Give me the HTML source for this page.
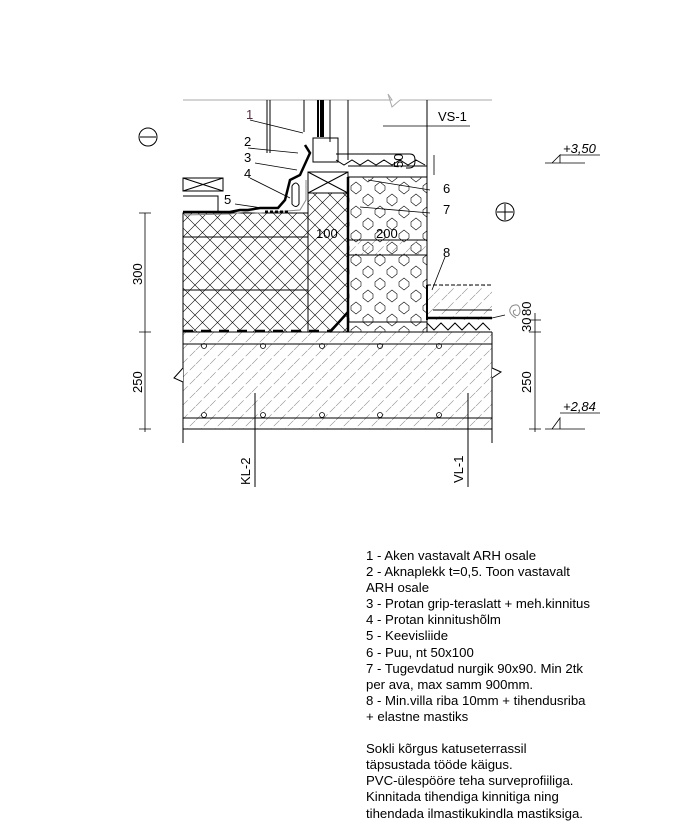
<!DOCTYPE html>
<html><head><meta charset="utf-8"><style>
body{margin:0;background:#fff;width:690px;height:840px;overflow:hidden;font-family:"Liberation Sans",sans-serif}
.leg{position:absolute;left:366px;top:548px;font-size:13.2px;line-height:16.1px;color:#000}
</style></head><body>
<svg width="690" height="840" style="position:absolute;left:0;top:0" font-family="Liberation Sans, sans-serif">
<defs>
<pattern id="x" width="15" height="15" patternUnits="userSpaceOnUse"><path d="M0 0L15 15M15 0L0 15" stroke="#000" stroke-width="0.6"/></pattern>
<pattern id="d" width="14" height="14" patternUnits="userSpaceOnUse"><path d="M0 14L14 0" stroke="#888" stroke-width="0.6" stroke-dasharray="8,3"/></pattern>
<pattern id="h" width="24" height="24" patternUnits="userSpaceOnUse"><polygon points="3,6 8,2 13,6 13,10 8,14 3,10" fill="none" stroke="#000" stroke-width="0.6"/><polygon points="15,18 20,14 25,18 25,22 20,26 15,22" fill="none" stroke="#000" stroke-width="0.6"/><polygon points="-9,18 -4,14 1,18 1,22 -4,26 -9,22" fill="none" stroke="#000" stroke-width="0.6"/><polygon points="15,-6 20,-10 25,-6 25,-2 20,2 15,-2" fill="none" stroke="#000" stroke-width="0.6"/></pattern>
</defs>
<g stroke="#000" fill="none" stroke-width="1">
<rect x="183" y="332" width="309" height="97" fill="url(#d)" stroke="none"/>
<path d="M183 332H492M183 344H492M183 418H492M183 429H492M183 332V443M492 332V443"/>
<path d="M183 368L174 378L183 382M492 368L501 372L492 378" fill="#fff"/>
<g stroke-width="0.8"><circle cx="204" cy="346" r="2.5"/><circle cx="263" cy="346" r="2.5"/><circle cx="322" cy="346" r="2.5"/><circle cx="380" cy="346" r="2.5"/><circle cx="439" cy="346" r="2.5"/>
<circle cx="204" cy="415" r="2.5"/><circle cx="263" cy="415" r="2.5"/><circle cx="322" cy="415" r="2.5"/><circle cx="380" cy="415" r="2.5"/><circle cx="439" cy="415" r="2.5"/></g>
<rect x="183" y="213" width="125" height="119" fill="url(#x)"/>
<path d="M183 237H308M183 290H308"/>
<rect x="308" y="193" width="40" height="139" fill="url(#x)"/>
<rect x="308" y="172" width="40" height="21" fill="#fff"/>
<path d="M308 172L348 193M348 172L308 193"/>
<rect x="348" y="177" width="79" height="155" fill="url(#h)"/>
<rect x="348" y="240" width="79" height="15" fill="url(#d)"/>
<path d="M348 240H427M348 255H427M348 322H427"/>
<path d="M348 177V332" stroke-width="2.5"/>
<path d="M330 332L348 312" stroke-width="2.5"/>
<path d="M183 331H330" stroke-width="2.5" stroke-dasharray="10,8"/>
<rect x="427" y="285" width="65" height="35" fill="url(#d)" stroke="none"/>
<path d="M427 285H492" stroke-dasharray="4,2"/>
<path d="M427 318H492" stroke-width="2.5"/>
<path d="M427 285V320" stroke-width="2"/>
<path d="M433 310H492"/>
<path d="M427 323L434 330L441 323L448 330L455 323L462 330L469 323L476 330L483 323L490 330"/>
<path d="M427 170V332"/>
<path d="M183 100H327M400 100H492M327 100L392 100L388 94L392 107L400 100" stroke="#aaa"/>
<path d="M267 100V153M270 100V153M304 100V132M330 100V142M348 100V160M427 100V177"/>
<path d="M318 100V137M321 100V137M323 100V137" stroke-width="2"/>
<path d="M313 138h25v24h-25z"/>
<path d="M336 154h74q5 0 5 6v1q0 7-6 7h-3"/>
<path d="M336 160L344 165L352 160L360 165L368 160L376 165L384 160L392 165L400 160L408 165L416 160L425 165"/>
<path d="M348 166H427M348 177H427"/>
<path d="M305 145L310 153L300 175L290 180L285 200L278 208L260 208L248 210L240 210L230 212L183 212" stroke-width="2.5"/>
<path d="M183 215L230 214L245 212L260 213L300 210L306 200V180" stroke="#888"/>
<path d="M265 212H290" stroke-width="3" stroke-dasharray="3,2"/>
<rect x="183" y="178" width="40" height="13"/><path d="M183 178L223 191M223 178L183 191"/>
<path d="M183 196H218V213"/>
<path d="M292 186q4-6 7 0v18q-3 5-7 0z"/>
<g stroke-width="0.8">
<path d="M250 120L303 133M248 148L298 153M255 163L297 170M250 178L290 198M235 204L262 208M430 190L368 180M430 213L360 207M445 257L432 290M505 315L492 318"/>
<path d="M383 126H470M434 155V175" />
</g>
<path d="M145 213V432M139 213H151M139 332H151M139 429H151" stroke-width="0.8"/>
<path d="M535 313V432M529 320H541M529 332H541M529 429H541" stroke-width="0.8"/>
<path d="M545 163H585M552 163L560 155V163M560 155H600" stroke-width="0.8"/>
<path d="M545 429H585M552 429L560 418V429M560 413H600" stroke-width="0.8"/>
<path d="M255 393V487M468 393V487"/>
<circle cx="148" cy="137" r="9"/><path d="M140 137H156"/>
<circle cx="505" cy="212" r="9"/><path d="M497 212H513M505 204V220"/>
<path d="M516 318q-10 -6 -4 -12q8 -4 8 6q-2 6-6 2q-2 -4 2 -4" stroke="#888"/>
</g>
<g font-size="13" fill="#000">
<text x="246" y="119" fill="#503040">1</text><text x="244" y="146">2</text><text x="244" y="162">3</text><text x="244" y="178">4</text><text x="224" y="204">5</text>
<text x="438" y="121">VS-1</text>
<text x="443" y="193">6</text><text x="443" y="214">7</text><text x="443" y="257">8</text>
<text x="316" y="238">100</text><text x="376" y="238">200</text>
<text transform="translate(403,168) rotate(-90)">50</text>
<text transform="translate(142,285) rotate(-90)">300</text>
<text transform="translate(142,393) rotate(-90)">250</text>
<text transform="translate(531,393) rotate(-90)">250</text>
<text transform="translate(531,332) rotate(-90)">30</text>
<text transform="translate(531,316) rotate(-90)">80</text>
<text x="563" y="153" font-style="italic">+3,50</text>
<text x="563" y="411" font-style="italic">+2,84</text>
<text transform="translate(250,485) rotate(-90)">KL-2</text>
<text transform="translate(463,483) rotate(-90)">VL-1</text>
</g>
</svg>
<div class="leg">1 - Aken vastavalt ARH osale<br>2 - Aknaplekk t=0,5. Toon vastavalt<br>ARH osale<br>3 - Protan grip-teraslatt + meh.kinnitus<br>4 - Protan kinnitushõlm<br>5 - Keevisliide<br>6 - Puu, nt 50x100<br>7 - Tugevdatud nurgik 90x90. Min 2tk<br>per ava, max samm 900mm.<br>8 - Min.villa riba 10mm + tihendusriba<br>+ elastne mastiks<br><br>Sokli kõrgus katuseterrassil<br>täpsustada tööde käigus.<br>PVC-ülespööre teha surveprofiiliga.<br>Kinnitada tihendiga kinnitiga ning<br>tihendada ilmastikukindla mastiksiga.</div>
</body></html>
